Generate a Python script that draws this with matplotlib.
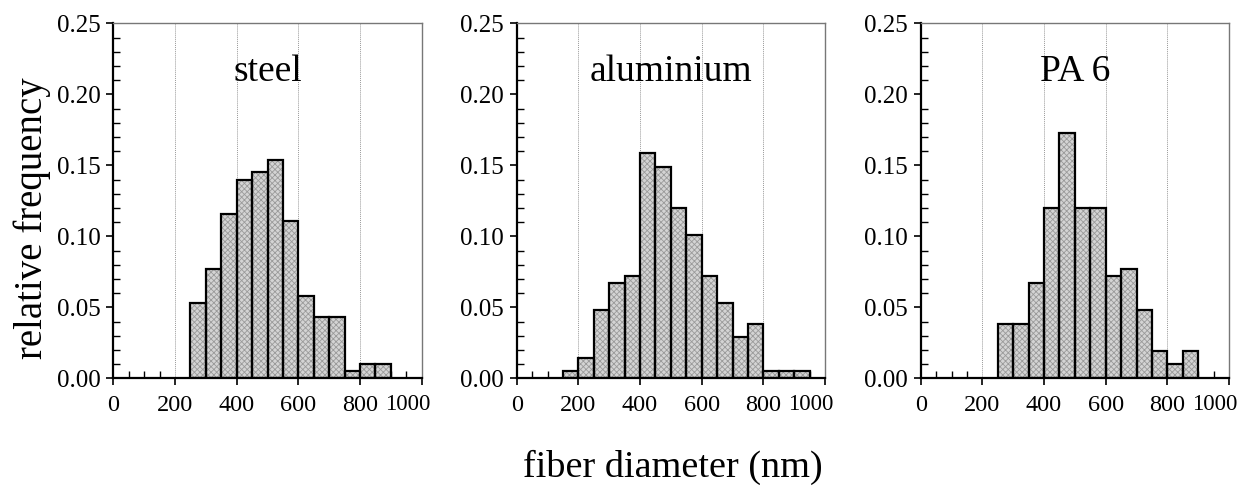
import matplotlib
matplotlib.use("Agg")
import matplotlib.pyplot as plt
from matplotlib.ticker import MultipleLocator
from matplotlib.transforms import ScaledTranslation

plt.rcParams['font.family'] = ['Liberation Serif', 'DejaVu Serif']
plt.rcParams['hatch.linewidth'] = 0.6

# Data: left bin edges (nm) and relative frequencies
steel_bins = [250, 300, 350, 400, 450, 500, 550, 600, 650, 700, 750, 800, 850]
steel_freq = [0.053, 0.077, 0.116, 0.140, 0.145, 0.154, 0.111, 0.058, 0.043, 0.043, 0.005, 0.010, 0.010]

alu_bins = [150, 200, 250, 300, 350, 400, 450, 500, 550, 600, 650, 700, 750, 800, 850, 900]
alu_freq = [0.005, 0.014, 0.048, 0.067, 0.072, 0.159, 0.149, 0.120, 0.101, 0.072, 0.053, 0.029, 0.038, 0.005, 0.005, 0.005]

pa6_bins = [250, 300, 350, 400, 450, 500, 550, 600, 650, 700, 750, 800, 850]
pa6_freq = [0.038, 0.038, 0.067, 0.120, 0.173, 0.120, 0.120, 0.072, 0.077, 0.048, 0.019, 0.010, 0.019]

titles = ["steel", "aluminium", "PA 6"]
series = [(steel_bins, steel_freq), (alu_bins, alu_freq), (pa6_bins, pa6_freq)]
bin_width = 50

xticks = [0, 200, 400, 600, 800, 1000]
xtick_labels = ["0", "200", "400", "600", "800", "1000"]
yticks = [0.00, 0.05, 0.10, 0.15, 0.20, 0.25]
ytick_labels = ["0.00", "0.05", "0.10", "0.15", "0.20", "0.25"]

W, H = 1239, 486
fig = plt.figure(figsize=(W / 100, H / 100), dpi=100)

lefts_px = [113.3, 516.7, 920.7]
ax_w_px = 308.4
bottom_px = 378.3
top_px = 23.3

for lp, title, (bins, freq) in zip(lefts_px, titles, series):
    ax = fig.add_axes([lp / W, 1 - bottom_px / H, ax_w_px / W, (bottom_px - top_px) / H])
    ax.set_xlim(0, 1000)
    ax.set_ylim(0, 0.25)
    # hatched fill
    ax.bar(bins, freq, width=bin_width, align='edge', facecolor='#d4d4d4',
           edgecolor='#9a9a9a', hatch='xxxxxx', linewidth=0, zorder=2)
    # outline
    ax.bar(bins, freq, width=bin_width, align='edge', facecolor='none',
           edgecolor='black', linewidth=1.6, zorder=3)
    for gx in xticks[1:-1]:
        ax.axvline(gx, color='#999999', linestyle=(0, (1, 1)), linewidth=0.7, zorder=1)
    ax.text(500, 0.216, title, ha='center', va='center', fontsize=27)

    ax.set_xticks(xticks)
    ax.set_xticklabels(xtick_labels)
    ax.set_yticks(yticks)
    ax.set_yticklabels(ytick_labels)
    ax.xaxis.set_minor_locator(MultipleLocator(50))
    ax.yaxis.set_minor_locator(MultipleLocator(0.01))
    ax.tick_params(which='major', direction='out', length=5, width=1.2)
    ax.tick_params(axis='x', which='major', labelsize=17.5, pad=7)
    ax.tick_params(axis='y', which='major', labelsize=18, pad=4)
    ax.tick_params(which='minor', direction='in', length=5, width=1.0)
    ax.tick_params(top=False, right=False, which='both')
    for s in ['left', 'bottom']:
        ax.spines[s].set_linewidth(1.6)
        ax.spines[s].set_color('black')
    for s in ['top', 'right']:
        ax.spines[s].set_linewidth(1.0)
        ax.spines[s].set_color('#777777')

    last = ax.get_xticklabels()[-1]
    last.set_fontsize(16.5)
    last.set_transform(last.get_transform() + ScaledTranslation(-14 / 100, 0.5 / 100, fig.dpi_scale_trans))

fig.text(32 / W, 1 - 218 / H, "relative frequency", rotation=90, ha='center', va='center', fontsize=28)
fig.text(673 / W, 1 - 467 / H, "fiber diameter (nm)", ha='center', va='center', fontsize=27.5)

fig.savefig("out.png", dpi=100)
